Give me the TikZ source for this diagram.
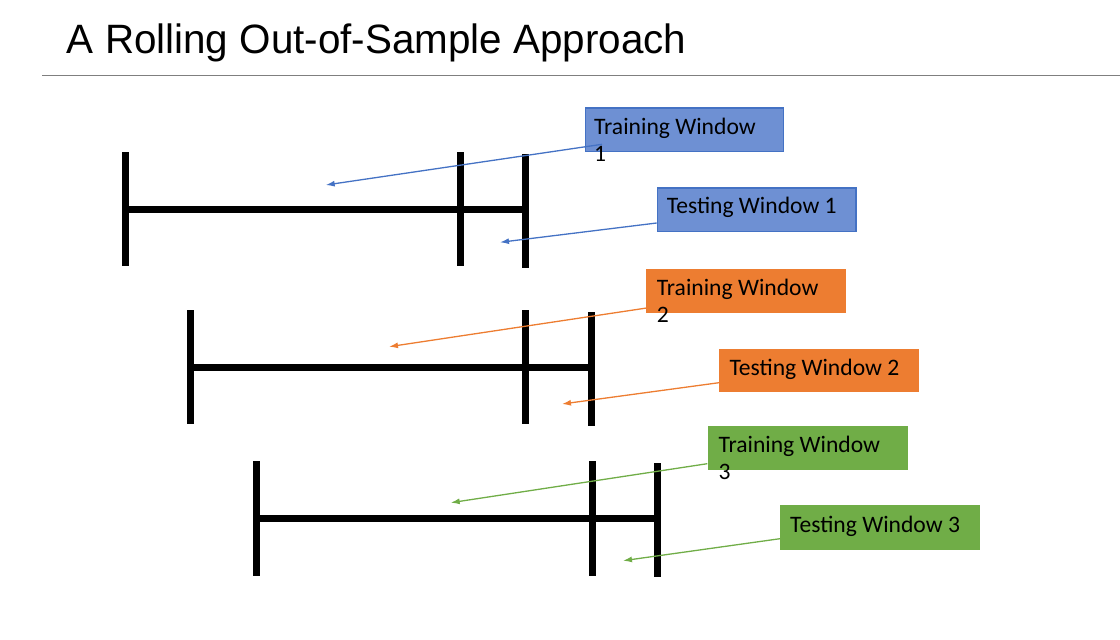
\documentclass[tikz,border=0pt]{standalone}
\usepackage{fontspec}
\setmainfont{Carlito}
\newfontfamily\titlefont{Liberation Sans}
\usetikzlibrary{arrows.meta}
\definecolor{tblue}{HTML}{4472C4}
\definecolor{tbluefill}{HTML}{6E90D3}
\definecolor{torange}{HTML}{ED7D31}
\definecolor{tgreen}{HTML}{70AD47}
\definecolor{rulegray}{HTML}{7F7F7F}
\newcommand{\twoline}[2]{\vtop{\hbox{#1}\hbox{#2}}}
\begin{document}
\begin{tikzpicture}[x=1pt,y=-1pt,
  bar/.style={line width=7pt, black},
  wbox/.style={anchor=north west, inner sep=0pt, minimum height=43.4pt},
  lbl/.style={anchor=base west, inner sep=0pt, font=\fontsize{23.6}{27.5}\selectfont},
  ptr/.style={line width=1.3pt, -{Latex[length=9pt,width=6pt]}}
]
\useasboundingbox (0,0) rectangle (1120,640);

% title and rule
\node[anchor=base west, inner sep=0pt, font=\titlefont\fontsize{41}{48}\selectfont] (title) at (66.7,53.3) {\scalebox{0.985}[1]{A Rolling Out-of-Sample Approach}};
\coordinate (ruleL) at (42,75.5);
\coordinate (ruleR) at (1120,75.5);
\draw[rulegray, line width=1.5pt] (ruleL) -- (ruleR);

% row 1 bars
\draw[bar] (125,152) -- (125,266);
\draw[bar] (460.5,152) -- (460.5,266);
\draw[bar] (525.7,154) -- (525.7,268);
\draw[bar] (125,209.3) -- (525.7,209.3);
% row 2 bars
\draw[bar] (190,310) -- (190,424);
\draw[bar] (525.7,310) -- (525.7,424);
\draw[bar] (591,312) -- (591,426);
\draw[bar] (190,367) -- (591,367);
% row 3 bars
\draw[bar] (256.3,461) -- (256.3,576);
\draw[bar] (592.3,461) -- (592.3,576);
\draw[bar] (657.3,463) -- (657.3,577);
\draw[bar] (256.3,518.7) -- (657.3,518.7);

% arrow tips
\coordinate (tip1a) at (325.7,185);
\coordinate (tip1b) at (500,242.3);
\coordinate (tip2a) at (389,346.7);
\coordinate (tip2b) at (562,404);
\coordinate (tip3a) at (450.7,502.7);
\coordinate (tip3b) at (623,560.7);

% boxes
\node[wbox, fill=tbluefill, draw=tblue, line width=1.3pt, minimum width=197.5pt] (tr1) at (585,107.3) {};
\node[wbox, fill=tbluefill, draw=tblue, line width=1.3pt, minimum width=198.6pt] (te1) at (656.7,187.3) {};
\node[wbox, fill=torange, minimum width=200pt, minimum height=43.7pt] (tr2) at (646,269) {};
\node[wbox, fill=torange, minimum width=199.3pt] (te2) at (719,348.3) {};
\node[wbox, fill=tgreen, minimum width=200pt, minimum height=44.3pt] (tr3) at (707.3,425.7) {};
\node[wbox, fill=tgreen, minimum width=200pt, minimum height=44.3pt] (te3) at (780,505) {};

% labels
\node[lbl] (l1a) at ([xshift=9pt, yshift=-27pt]tr1.north west) {\twoline{Training Window}{1}};
\node[lbl] (l1b) at ([xshift=10pt, yshift=-26pt]te1.north west) {Testing Window 1};
\node[lbl] (l2a) at ([xshift=10.7pt, yshift=-26pt]tr2.north west) {\twoline{Training Window}{2}};
\node[lbl] (l2b) at ([xshift=10.3pt, yshift=-26.7pt]te2.north west) {Testing Window 2};
\node[lbl] (l3a) at ([xshift=11pt, yshift=-26.6pt]tr3.north west) {\twoline{Training Window}{3}};
\node[lbl] (l3b) at ([xshift=10pt, yshift=-27.3pt]te3.north west) {Testing Window 3};

% connectors
\draw[ptr, tblue] ([xshift=17pt, yshift=7.7pt]tr1.south west) -- (tip1a);
\draw[ptr, tblue] ([yshift=9pt]te1.south west) -- (tip1b);
\draw[ptr, torange] ([yshift=5pt]tr2.south west) -- (tip2a);
\draw[ptr, torange] ([yshift=9.4pt]te2.south west) -- (tip2b);
\draw[ptr, tgreen] ([yshift=6.7pt]tr3.south west) -- (tip3a);
\draw[ptr, tgreen] ([yshift=11pt]te3.south west) -- (tip3b);
\end{tikzpicture}
\end{document}
